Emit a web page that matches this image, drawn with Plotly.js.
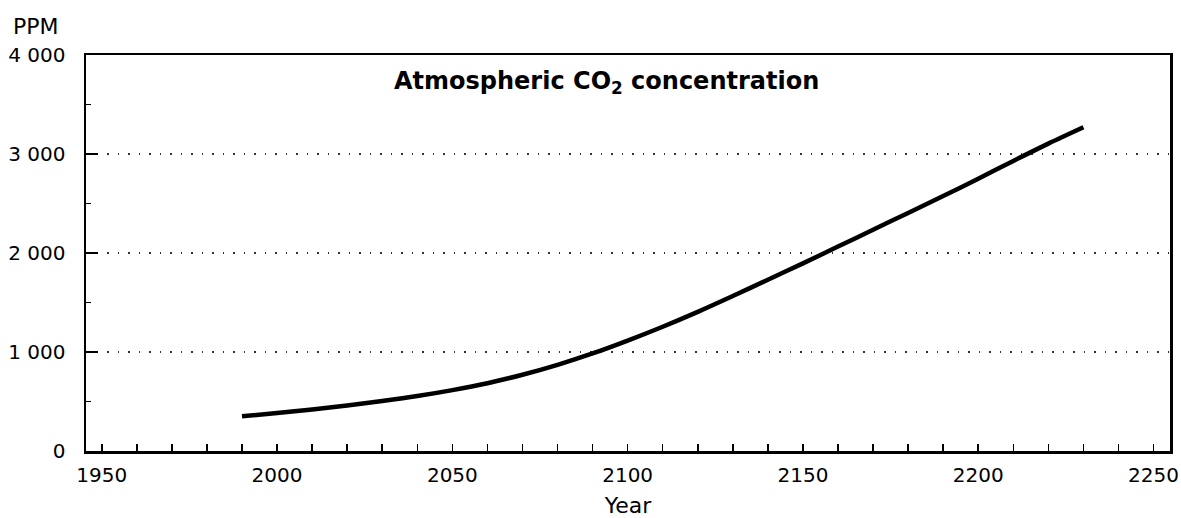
<!DOCTYPE html>
<html>
<head>
<meta charset="utf-8">
<script src="https://cdn.plot.ly/plotly-3.0.1.min.js"></script>
<style>html,body{margin:0;padding:0;background:#fff;}#chart{width:1181px;height:518px;}</style>
</head>
<body>
<div id="chart"></div>
<script>
// Data
const years = [1990, 2000, 2010, 2020, 2030, 2040, 2050, 2060, 2070, 2080, 2090, 2100,
               2110, 2120, 2130, 2140, 2150, 2160, 2170, 2180, 2190, 2200, 2210, 2220, 2230];
const co2ppm = [350, 385, 420, 460, 505, 555, 615, 685, 770, 870, 985, 1115,
                1255, 1405, 1565, 1730, 1895, 2065, 2235, 2405, 2575, 2750, 2930, 3105, 3270];

const xTickVals = [1950, 2000, 2050, 2100, 2150, 2200, 2250];
const xTickLabels = ['1950', '2000', '2050', '2100', '2150', '2200', '2250'];
const yTickVals = [0, 1000, 2000, 3000, 4000];
const yTickLabels = ['0', '1 000', '2 000', '3 000', '4 000'];

const FONT = '"DejaVu Sans", "Liberation Sans", Arial, sans-serif';

const trace = {
  x: years, y: co2ppm, type: 'scatter', mode: 'lines',
  line: {color: '#000', width: 4.5, shape: 'spline', smoothing: 0.8},
  hoverinfo: 'x+y'
};

const layout = {
  width: 1181, height: 518,
  margin: {l: 86, r: 11, t: 55, b: 67},
  paper_bgcolor: '#fff', plot_bgcolor: '#fff',
  showlegend: false,
  font: {family: FONT, color: '#000', size: 20},
  xaxis: {
    range: [1945.5, 2254.7],
    tickmode: 'array', tickvals: xTickVals, ticktext: xTickLabels,
    ticks: 'inside', ticklen: 7, tickwidth: 1.5, tickcolor: '#000',
    minor: {tickmode: 'linear', tick0: 1950, dtick: 10, ticks: 'inside', ticklen: 7, tickwidth: 1.5, tickcolor: '#000', showgrid: false},
    showgrid: false, zeroline: false,
    showline: true, linecolor: '#000', linewidth: 2.5, mirror: true,
    tickfont: {family: FONT, size: 20, color: '#000'},
    ticklabelstandoff: 4,
    title: {text: 'Year', font: {family: FONT, size: 22, color: '#000'}, standoff: 12}
  },
  yaxis: {
    range: [0, 4000],
    tickmode: 'array', tickvals: yTickVals, ticktext: yTickLabels,
    ticks: 'inside', ticklen: 12, tickwidth: 1.5, tickcolor: '#000',
    minor: {tickmode: 'linear', tick0: 0, dtick: 500, ticks: 'inside', ticklen: 5, tickwidth: 1.5, tickcolor: '#000', showgrid: false},
    showgrid: true, gridcolor: '#333', gridwidth: 1.5, griddash: '1.5px,9px',
    zeroline: false,
    showline: true, linecolor: '#000', linewidth: 2.5, mirror: true,
    tickfont: {family: FONT, size: 20, color: '#000'},
    ticklabelstandoff: 14
  },
  annotations: [
    {text: '<b>Atmospheric CO<sub>2</sub> concentration</b>', xref: 'paper', yref: 'paper',
     x: 0.48, y: 0.93, xanchor: 'center', yanchor: 'middle', showarrow: false,
     font: {family: FONT, size: 24, color: '#000'}},
    {text: 'PPM', xref: 'paper', yref: 'paper', x: -0.069, y: 1.071, xanchor: 'left', yanchor: 'middle',
     showarrow: false, font: {family: FONT, size: 22, color: '#000'}}
  ]
};

Plotly.newPlot('chart', [trace], layout, {displayModeBar: false, staticPlot: true});
</script>
</body>
</html>
